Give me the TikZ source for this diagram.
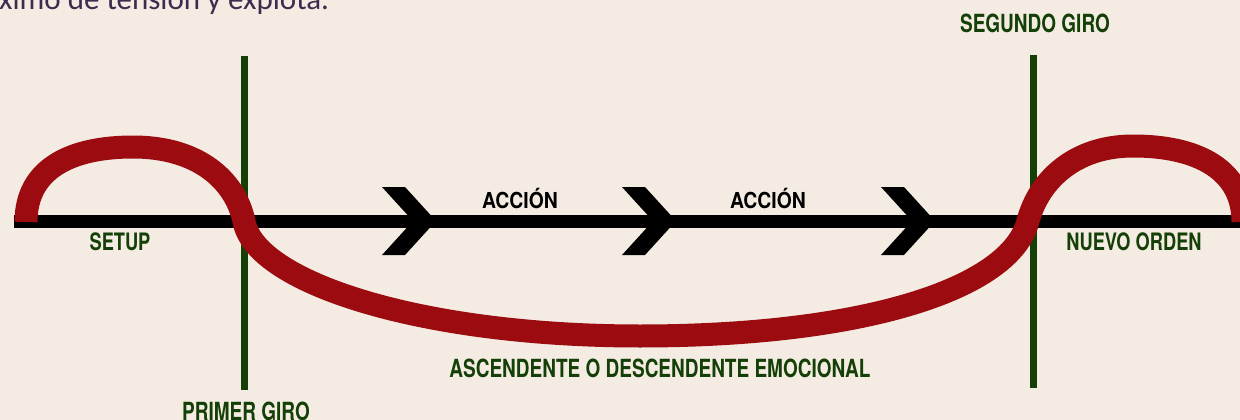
\documentclass[tikz,border=0pt]{standalone}
\usepackage{fontspec}
\setmainfont{TeX Gyre Heros}
\newfontfamily\condfont[FakeStretch=0.76]{TeX Gyre Heros}
\newfontfamily\accfont[FakeStretch=0.88]{TeX Gyre Heros}
\newfontfamily\topfont{Carlito}
\definecolor{bg}{HTML}{F4ECE2}
\definecolor{arcred}{HTML}{9C0B10}
\definecolor{turngreen}{HTML}{143F06}
\definecolor{toptext}{HTML}{3E2B4D}
\tikzset{
  turnline/.style={draw=turngreen, line width=6.5pt},
  mainline/.style={draw=black, line width=13pt},
  chevron/.style={fill=black},
  emoarc/.style={draw=arcred, line width=23pt, line cap=butt, line join=round},
  greenlabel/.style={text=turngreen, font=\condfont\bfseries\fontsize{24}{24}\selectfont, inner sep=0pt, anchor=base},
  biglabel/.style={greenlabel, font=\condfont\bfseries\fontsize{25}{25}\selectfont},
  actlabel/.style={text=black, font=\accfont\bfseries\fontsize{22}{22}\selectfont, inner sep=0pt, anchor=base},
}
\begin{document}
\begin{tikzpicture}[x=1pt,y=-1pt]
\useasboundingbox (0,0) rectangle (1240,420);
\clip (0,0) rectangle (1240,420);
\fill[bg] (0,0) rectangle (1240,420);

% top cut-off text
\node[text=toptext, font=\topfont\fontsize{31}{31}\selectfont, inner sep=0pt, anchor=base west] (top) at (-1,9.3) {ximo de tensión y explota.};

% turning-point lines
\coordinate (g1t) at (244.5,56);
\coordinate (g1b) at (244.5,390);
\coordinate (g2t) at (1033.5,55);
\coordinate (g2b) at (1033.5,388);
\draw[turnline] (g1t) -- (g1b);
\draw[turnline] (g2t) -- (g2b);

% main time line
\coordinate (ls) at (14,221);
\coordinate (le) at (1240,221);
\draw[mainline] (ls) -- (le);

% chevrons
\foreach \L in {382,622,881}{
  \fill[chevron] (\L,187) -- (\L+23,187) -- (\L+54,221) -- (\L+23,255) -- (\L,255) -- (\L+31,221) -- cycle;
}

% emotional curve
\coordinate (a0) at (26,222);
\coordinate (a1) at (133,147);
\coordinate (x1) at (244,221);
\coordinate (a2) at (640,336);
\coordinate (x2) at (1028,221);
\coordinate (a3) at (1133,146);
\coordinate (a4) at (1243,222);
\draw[emoarc] (a0) .. controls (26,168) and (72,147) .. (a1)
  .. controls (198,147) and (235,180) .. (x1)
  .. controls (254,282) and (420,336) .. (a2)
  .. controls (860,336) and (1010,290) .. (x2)
  .. controls (1039,180) and (1075,146) .. (a3)
  .. controls (1198,146) and (1243,170) .. (a4);

% labels
\node[greenlabel] (setup) at (120,250) {SETUP};
\node[greenlabel] (nuevo) at (1134,250) {NUEVO ORDEN};
\node[biglabel] (primer) at (246,420) {PRIMER GIRO};
\node[biglabel] (segundo) at (1035,33) {SEGUNDO GIRO};
\node[biglabel] (emo) at (660,377) {ASCENDENTE O DESCENDENTE EMOCIONAL};
\node[actlabel] (acc1) at (520,208) {ACCIÓN};
\node[actlabel] (acc2) at (768,208) {ACCIÓN};
\end{tikzpicture}
\end{document}
